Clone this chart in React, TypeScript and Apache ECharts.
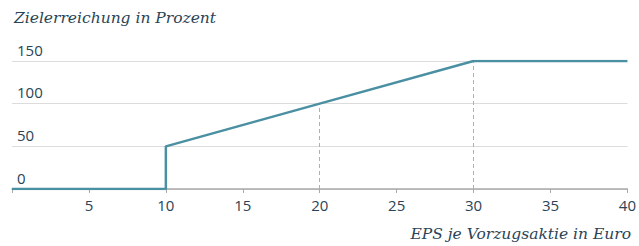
import React, { useEffect, useRef } from "react";
import * as echarts from "echarts";

const xValues = [0, 10, 10, 20, 30, 40];
const yValues = [0, 0, 50, 100, 150, 150];
const dashedMarks = [
  { x: 20, y: 100 },
  { x: 30, y: 150 },
];
const yTicks = [0, 50, 100, 150];
const xTicks = [0, 5, 10, 15, 20, 25, 30, 35, 40];
const yTitle = "Zielerreichung in Prozent";
const xTitle = "EPS je Vorzugsaktie in Euro";

const TEXT = "#2a4456";
const LINE = "#4a8fa2";

export default function App() {
  const ref = useRef<HTMLDivElement>(null);
  useEffect(() => {
    if (!ref.current) return;
    const chart = echarts.init(ref.current, undefined, { renderer: "svg" });
    chart.setOption({
      animation: false,
      backgroundColor: "#ffffff",
      grid: { left: 12, right: 11, top: 61, bottom: 57, containLabel: false },
      title: {
        text: yTitle,
        left: 9,
        top: 5,
        textStyle: {
          fontFamily: "DejaVu Serif",
          fontStyle: "italic",
          fontWeight: "normal",
          fontSize: 15.5,
          color: TEXT,
        },
      },
      graphic: [
        {
          type: "text",
          right: 8,
          top: 226,
          style: {
            text: xTitle,
            font: "italic 15.5px 'DejaVu Serif'",
            fill: TEXT,
          },
        },
      ],
      xAxis: {
        type: "value",
        min: xTicks[0],
        max: xTicks[xTicks.length - 1],
        interval: 5,
        axisLine: { show: true, lineStyle: { color: "#a9a9a9", width: 1.5 } },
        axisTick: { show: true, length: 4, lineStyle: { color: "#a9a9a9" } },
        splitLine: { show: false },
        axisLabel: {
          color: TEXT,
          fontFamily: "Open Sans",
          fontSize: 15,
          margin: 8,
          formatter: (v: number) => (v === 0 ? "" : String(v)),
        },
      },
      yAxis: {
        type: "value",
        min: yTicks[0],
        max: yTicks[yTicks.length - 1],
        interval: 50,
        axisLine: { show: false },
        axisTick: { show: false },
        splitLine: { show: true, lineStyle: { color: "#dcdcdc", width: 1 } },
        axisLabel: {
          inside: true,
          color: TEXT,
          fontFamily: "Open Sans",
          fontSize: 15,
          verticalAlign: "bottom",
          margin: 5,
          padding: [0, 0, 4, 0],
        },
      },
      series: [
        {
          type: "line",
          data: xValues.map((x, i) => [x, yValues[i]]),
          symbol: "none",
          lineStyle: { color: LINE, width: 2.5 },
          z: 5,
          markLine: {
            silent: true,
            symbol: "none",
            label: { show: false },
            lineStyle: { color: "#b0b0b0", type: [4, 3], width: 1 },
            data: dashedMarks.map((m) => [
              { coord: [m.x, 0] },
              { coord: [m.x, m.y] },
            ]),
          },
        },
      ],
    });
    return () => chart.dispose();
  }, []);
  return (
    <div
      ref={ref}
      style={{ position: "fixed", left: 0, top: 0, width: 639, height: 246 }}
    />
  );
}
